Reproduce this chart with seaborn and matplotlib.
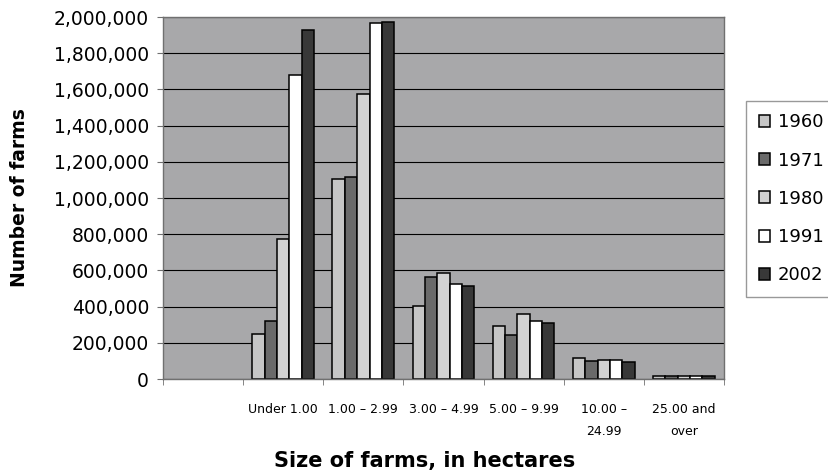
import pandas as pd
import matplotlib.pyplot as plt
import matplotlib.ticker as mticker
import seaborn as sns

# farm size classes (first slot on the axis is left blank in the original)
sizes = ["", "Under 1.00", "1.00 \u2013 2.99", "3.00 \u2013 4.99", "5.00 \u2013 9.99",
         "10.00 \u2013\n24.99", "25.00 and\nover"]
years = ["1960", "1971", "1980", "1991", "2002"]

# number of farms per size class, one list per year
farms_1960 = [247000, 1105000, 405000, 293000, 118000, 15000]
farms_1971 = [322000, 1118000, 562000, 243000, 100000, 15000]
farms_1980 = [772000, 1573000, 588000, 357000, 103000, 15000]
farms_1991 = [1678000, 1965000, 524000, 322000, 104000, 15000]
farms_2002 = [1928000, 1971000, 514000, 308000, 92000, 15000]

bar_colors = ["#c6c6c6", "#6a6a6a", "#d2d2d2", "#ffffff", "#383838"]

series = [farms_1960, farms_1971, farms_1980, farms_1991, farms_2002]
rows = []
for yr, vals in zip(years, series):
    for size, v in zip(sizes[1:], vals):
        rows.append({"size": size, "year": yr, "farms": v})
df = pd.DataFrame(rows)

sns.set_style("white")
plt.rcParams["font.family"] = ["DejaVu Sans"]
plt.rcParams["text.color"] = "black"
plt.rcParams["axes.labelcolor"] = "black"
plt.rcParams["xtick.labelcolor"] = "black"
plt.rcParams["ytick.labelcolor"] = "black"

fig = plt.figure(figsize=(8.29, 4.71), dpi=100)
ax = fig.add_axes([0.1966, 0.1953, 0.6767, 0.7686])
ax.set_facecolor("#a8a8aa")

sns.barplot(data=df, x="size", y="farms", hue="year", order=sizes, hue_order=years,
            palette=bar_colors, width=0.77, edgecolor="black", linewidth=1.1,
            saturation=1, ax=ax)

ax.set_ylim(0, 2000000)
ax.set_xlim(-0.5, len(sizes) - 0.5)
ax.yaxis.set_major_locator(mticker.MultipleLocator(200000))
ax.yaxis.set_major_formatter(mticker.FuncFormatter(lambda v, p: f"{int(v):,}"))
ax.grid(axis="y", color="black", linewidth=0.8)
ax.set_axisbelow(True)

for s in ax.spines.values():
    s.set_color("#707070")
    s.set_linewidth(1.0)

ax.tick_params(axis="y", labelsize=13.5, length=4, color="#707070", pad=6, left=True)
ax.tick_params(axis="x", which="major", length=0, labelsize=9, pad=17)
ax.set_xticks([i - 0.5 for i in range(len(sizes) + 1)], minor=True)
ax.tick_params(axis="x", which="minor", length=4, color="#707070", bottom=True)
for lbl in ax.get_xticklabels():
    lbl.set_linespacing(1.9)
    lbl.set_verticalalignment("top")

ax.set_ylabel("Number of farms", fontsize=13.5, fontweight="bold", labelpad=18)
ax.set_xlabel("Size of farms, in hectares", fontsize=15, fontweight="bold")
ax.xaxis.set_label_coords(0.467, -0.2)

handles, labels = ax.get_legend_handles_labels()
if ax.get_legend() is not None:
    ax.get_legend().remove()
leg = fig.legend(handles, labels, loc="center left", bbox_to_anchor=(0.9, 0.578),
                 fontsize=13, frameon=True, fancybox=False, edgecolor="#808080",
                 handlelength=0.65, handleheight=0.65, handletextpad=0.4,
                 labelspacing=1.12, borderpad=0.7, borderaxespad=0)
leg.get_frame().set_linewidth(1.0)

fig.savefig("out.png", dpi=100)
